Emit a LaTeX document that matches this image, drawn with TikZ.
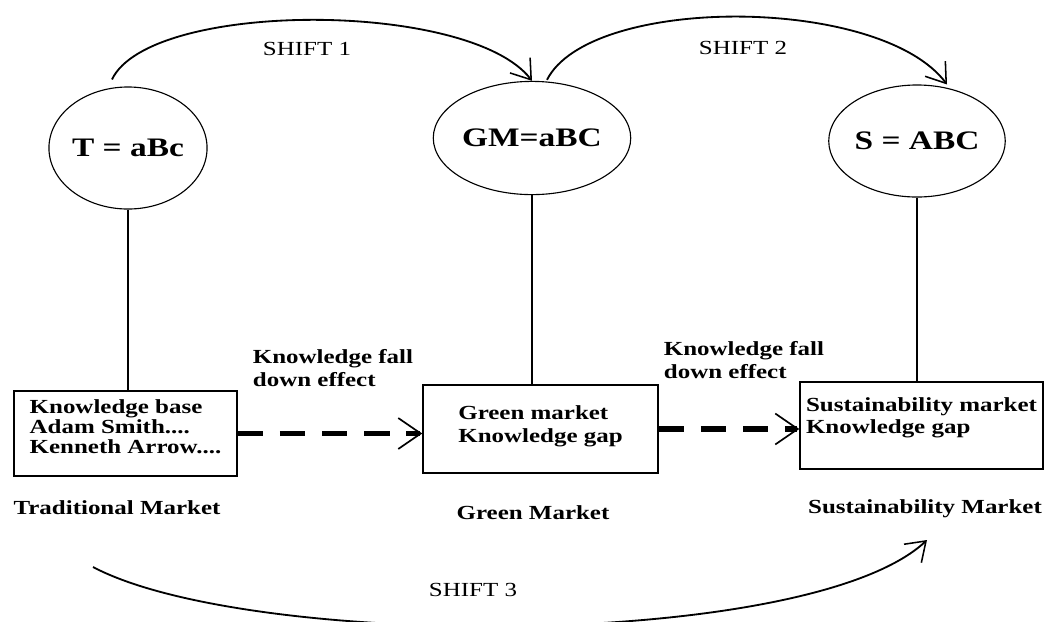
\documentclass[tikz,border=0pt]{standalone}
\usepackage{fontspec}
\setmainfont{Liberation Serif}[FakeStretch=1.25]
\usetikzlibrary{arrows.meta,shapes.geometric,calc,positioning}

\tikzset{
    marketcircle/.style={
        ellipse,
        draw,
        line width=0.8pt,
        inner sep=0pt,
        font=\fontsize{19}{21}\selectfont\bfseries
    },
    marketbox/.style={
        draw,
        line width=1pt,
        inner sep=0pt,
        align=left,
        font=\fontsize{14.2}{16.2}\selectfont\bfseries
    },
    marketlabel/.style={
        align=left,
        font=\fontsize{14.2}{16.5}\selectfont\bfseries
    },
    shiftlabel/.style={
        font=\fontsize{14.2}{16}\selectfont
    },
    % arcs between markets
    shiftarrow/.style={
        line width=1.3pt,
        -{Straight Barb[length=13pt, width=18pt, line width=1.1pt]}
    },
    falldown/.style={
        line width=3.7pt,
        dash pattern=on 18pt off 12pt,
        -{Straight Barb[length=16pt, width=22pt, line width=1.2pt]}
    }
}

\begin{document}
\begin{tikzpicture}[x=0.025cm, y=-0.025cm]
            \useasboundingbox (0,0) rectangle (1046,621);

            % circles
            \node[marketcircle, minimum width=3.95cm, minimum height=3.05cm] (T) at (128,148) {T = aBc};
            \node[marketcircle, minimum width=4cm, minimum height=2.83cm] (GM) at (532,138) {GM=aBC};
            \node[marketcircle, minimum width=4.2cm, minimum height=2.8cm] (S) at (917,141) {S = ABC};

            % boxes
            \node[marketbox, minimum width=5.575cm, minimum height=2.125cm, text depth=10pt,
                font=\fontsize{14.2}{14}\selectfont\bfseries] (kbase) at (125.5,433.5)
                {Knowledge base\\Adam Smith....\\Kenneth Arrow....};
            \node[marketbox, minimum width=5.875cm, minimum height=2.2cm, text depth=7pt] (gmbox) at (540.5,429)
                {Green market\\Knowledge gap};
            \node[marketbox, minimum width=6.075cm, minimum height=2.175cm, text depth=14pt] (sbox) at (921.5,425.5)
                {Sustainability market\\Knowledge gap};

            \draw[line width=1.3pt] (T.south) -- (T.south |- kbase.north);
            \draw[line width=1.3pt] (GM.south) -- (GM.south |- gmbox.north);
            \draw[line width=1.3pt] (S.south) -- (S.south |- sbox.north);

            % knowledge fall down
            \draw[falldown] (kbase.east) -- (kbase.east -| gmbox.west);
            \draw[falldown] (gmbox.east) -- (gmbox.east -| sbox.west);
            \node[marketlabel] (fall1) at (333,368) {Knowledge fall\\down effect};
            \node[marketlabel] (fall2) at (744,360) {Knowledge fall\\down effect};

            %label
            \node[marketlabel] (tlabel) at (117,508) {Traditional Market};
            \node[marketlabel] (glabel) at (533,513) {Green Market};
            \node[marketlabel] (slabel) at (925,509) {Sustainability Market};

            % shifts
            \coordinate (s1a) at ($(T.north)+(-16,-7)$);
            \coordinate (s2a) at ($(GM.north)+(15,-1)$);
            \coordinate (s2b) at ($(S.north)+(30,0)$);
            \coordinate (s3a) at (93,567);
            \coordinate (s3b) at (927,540);

            \draw[shiftarrow] (s1a) .. controls (150,0) and (470,0) .. (GM.north);
            \draw[shiftarrow] (s2a) .. controls (590,-5) and (880,-5) .. (s2b);
            \draw[shiftarrow] (s3a) .. controls (250,650) and (810,650) .. (s3b);

            \node[shiftlabel] (shift1) at (307,49) {SHIFT 1};
            \node[shiftlabel] (shift2) at (743,48) {SHIFT 2};
            \node[shiftlabel] (shift3) at (473,590) {SHIFT 3};
        \end{tikzpicture}
\end{document}
